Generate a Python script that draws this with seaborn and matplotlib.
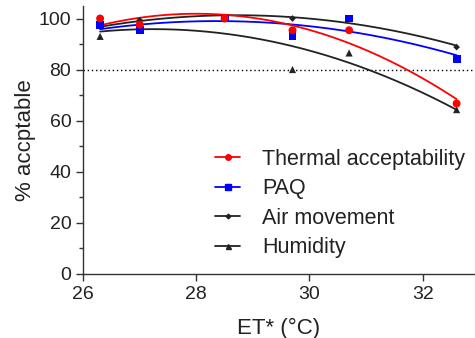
import matplotlib
matplotlib.use("Agg")
import matplotlib.pyplot as plt
import seaborn as sns
import numpy as np
import pandas as pd
from matplotlib.lines import Line2D
from matplotlib.ticker import MultipleLocator

et = [26.3, 27.0, 28.5, 29.7, 30.7, 32.6]
thermal = [100, 97.6, 100, 95.4, 95.4, 66.7]
paq = [97.6, 95.4, 100, 93.3, 100, 84.3]
air = [97.0, 99.3, 100, 100, 100, 88.8]
humidity = [93.0, 97.0, 100, 80.0, 86.5, 64.3]

series = {
    "Thermal acceptability": (thermal, "#ff0000", "o", 5),
    "PAQ": (paq, "#0000ff", "s", 5),
    "Air movement": (air, "#222222", "D", 3),
    "Humidity": (humidity, "#222222", "^", 4.5),
}
# draw order: humidity first, thermal on top
draw_order = ["Humidity", "Air movement", "PAQ", "Thermal acceptability"]

sns.set_style("ticks")
plt.rcParams["font.family"] = ["Liberation Sans", "DejaVu Sans"]

fig = plt.figure(figsize=(4.75, 3.38), dpi=100)
ax = fig.add_axes([0.175, 0.19, 0.822, 0.793])

xs = np.linspace(min(et), max(et), 200)
for z, name in enumerate(draw_order):
    vals, color, marker, ms = series[name]
    coef = np.polyfit(et, vals, 2)
    fit = pd.DataFrame({"x": xs, "y": np.polyval(coef, xs)})
    sns.lineplot(data=fit, x="x", y="y", color=color, linewidth=1.3, ax=ax, zorder=2 + z * 0.1)
    pts = pd.DataFrame({"x": et, "y": vals})
    sns.scatterplot(data=pts, x="x", y="y", color=color, marker=marker,
                    s=ms ** 2 * 1.3, edgecolor="none", ax=ax, zorder=3 + z * 0.1)

handles = [Line2D([], [], color=series[n][1], marker=series[n][2],
                  markersize=series[n][3] * 0.8, linewidth=1.3, label=n)
           for n in series]

ax.axhline(80, color="black", linestyle=(0, (1, 2)), linewidth=1, zorder=1)

ax.set_xlim(26, 32.9)
ax.set_ylim(0, 105)
ax.set_xticks([26, 28, 30, 32])
ax.set_yticks([0, 20, 40, 60, 80, 100])
ax.yaxis.set_minor_locator(MultipleLocator(10))
ax.tick_params(axis="both", which="major", labelsize=14, length=5, width=1,
               color="#333333", labelcolor="#222222")
ax.tick_params(axis="y", which="minor", length=3, width=1, color="#333333")
for s in ("left", "bottom"):
    ax.spines[s].set_color("#333333")
    ax.spines[s].set_linewidth(1)
sns.despine(ax=ax)

ax.set_xlabel("ET* (°C)", fontsize=16, color="#222222", labelpad=11)
ax.set_ylabel("% accptable", fontsize=16, color="#222222", labelpad=2)

ax.legend(handles=handles, loc="lower right", bbox_to_anchor=(1.0, 0.025),
          frameon=False, fontsize=15.5, handlelength=1.2, labelspacing=0.4,
          handletextpad=1.0, borderaxespad=0.0, labelcolor="#222222")

fig.savefig("out.png", dpi=100)
